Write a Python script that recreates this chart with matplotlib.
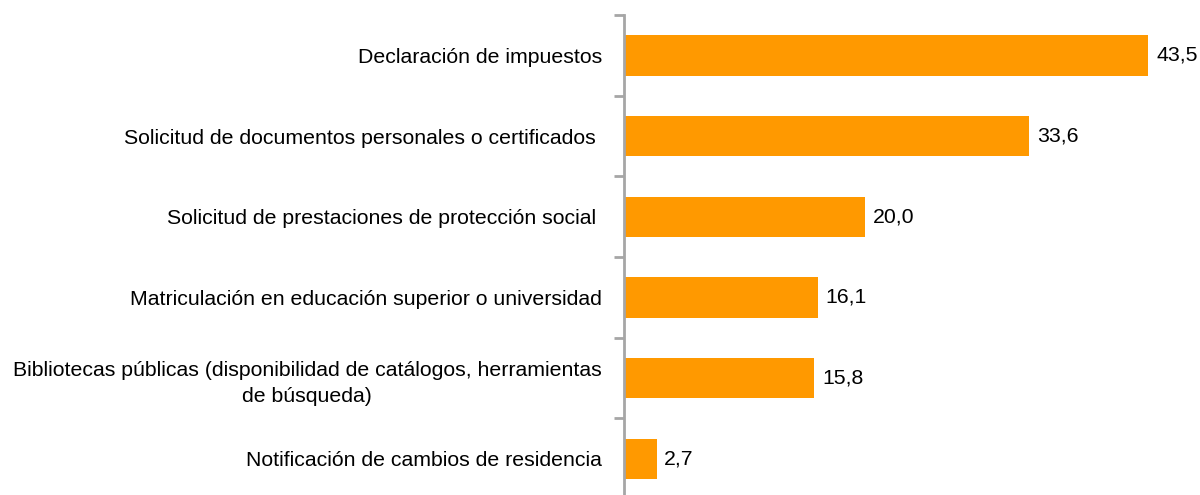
import matplotlib
matplotlib.use('Agg')
import matplotlib.pyplot as plt
import numpy as np

plt.rcParams['font.family'] = ['Liberation Sans', 'DejaVu Sans']

categorias = [
    'Declaración de impuestos',
    'Solicitud de documentos personales o certificados ',
    'Solicitud de prestaciones de protección social ',
    'Matriculación en educación superior o universidad',
    'Bibliotecas públicas (disponibilidad de catálogos, herramientas\nde búsqueda)',
    'Notificación de cambios de residencia',
]
valores = [43.5, 33.6, 20.0, 16.1, 15.8, 2.7]
etiquetas = ['43,5', '33,6', '20,0', '16,1', '15,8', '2,7']

fig = plt.figure(figsize=(12, 4.95), dpi=100)
ax = fig.add_axes([624/1200, -4/495, 576/1200, 484/495])

y = np.arange(len(valores))
ax.barh(y, valores, height=0.5, color='#FF9900')
ax.set_ylim(len(valores) - 0.5, -0.5)
ax.set_xlim(0, 47.8)

for yi, v, t in zip(y, valores, etiquetas):
    ax.text(v + 0.65, yi, t, va='center', ha='left', fontsize=15.3)

ax.set_yticks(y)
ax.set_yticklabels(categorias, fontsize=15.3, multialignment='center',
                   linespacing=1.45)
ax.tick_params(axis='y', which='major', length=0, pad=16)
ax.set_yticks(np.arange(-0.5, len(valores) + 0.5, 1), minor=True)
ax.tick_params(axis='y', which='minor', length=7, width=2, color='#a6a6a6')
ax.set_xticks([])

for s in ['top', 'right', 'bottom']:
    ax.spines[s].set_visible(False)
ax.spines['left'].set_color('#a6a6a6')
ax.spines['left'].set_linewidth(2)

fig.savefig('out.png', dpi=100)
